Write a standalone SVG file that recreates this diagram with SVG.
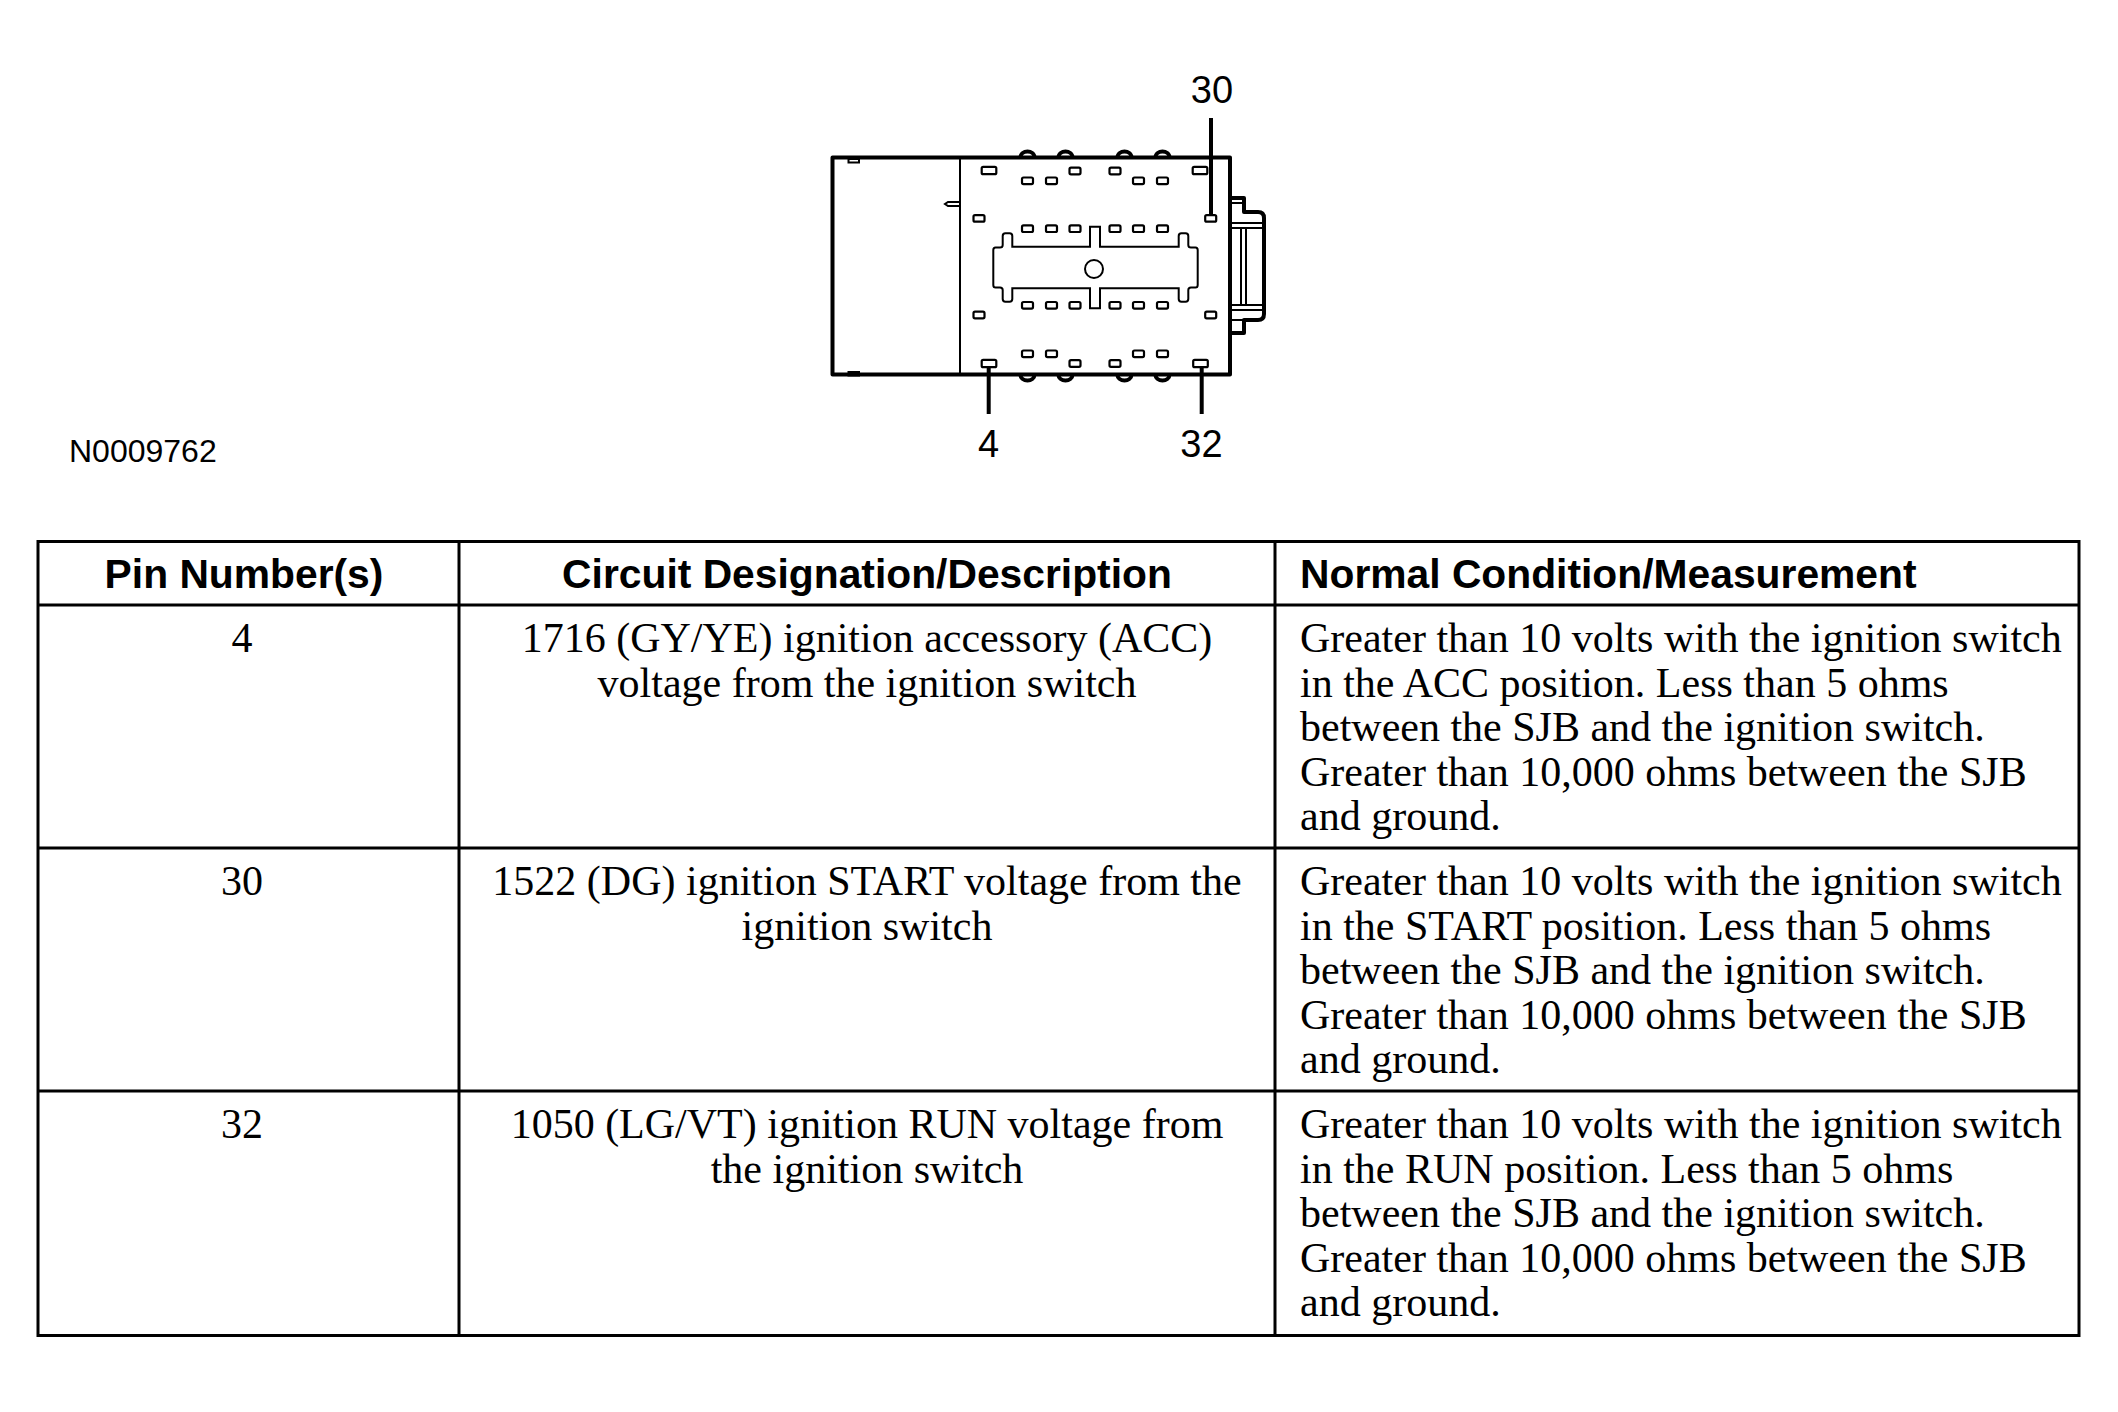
<svg xmlns="http://www.w3.org/2000/svg" width="2118" height="1412" viewBox="0 0 2118 1412">
<style>
  .hdr { font-family: "Liberation Sans", Arial, sans-serif; font-weight: bold; font-size: 40.8px; fill: #000; }
  .cell { font-family: "Liberation Serif", "Times New Roman", serif; font-size: 42px; fill: #000; }
  .lbl { font-family: "Liberation Sans", Arial, sans-serif; font-size: 38px; fill: #000; }
  .code { font-family: "Liberation Sans", Arial, sans-serif; font-size: 32px; fill: #000; }
  .grid { stroke: #000; stroke-width: 3; fill: none; }
  .outl { stroke: #000; stroke-width: 4; fill: #fff; stroke-linejoin: round; }
  .thin { stroke: #000; stroke-width: 2; fill: none; }
  .pin { stroke: #000; stroke-width: 2.2; fill: #fff; }
  .lead { stroke: #000; stroke-width: 4; fill: none; }
  .mid { text-anchor: middle; }
</style>
<defs>
  <rect id="sp" x="-5.5" y="-3.3" width="11" height="6.6" rx="1.5"/>
  <rect id="lp" x="-7.3" y="-3.7" width="14.6" height="7.4" rx="1.5"/>
  <path id="bump" d="M -7 0 C -7 -8 7 -8 7 0"/>
</defs>
<rect width="2118" height="1412" fill="#fff"/>

<g id="connector">
  <g class="outl" stroke-width="3.5">
    <use href="#bump" x="1027.5" y="157.5"/>
    <use href="#bump" x="1065.5" y="157.5"/>
    <use href="#bump" x="1124.5" y="157.5"/>
    <use href="#bump" x="1162.5" y="157.5"/>
    <use href="#bump" transform="translate(1027.5 374.5) scale(1 -1)"/>
    <use href="#bump" transform="translate(1065.5 374.5) scale(1 -1)"/>
    <use href="#bump" transform="translate(1124.5 374.5) scale(1 -1)"/>
    <use href="#bump" transform="translate(1162.5 374.5) scale(1 -1)"/>
  </g>
  <path class="outl" d="M 1230 198 L 1244 198 L 1244 212 L 1258 212 Q 1264 212 1264 218 L 1264 314 Q 1264 320 1258 320 L 1244 320 L 1244 333 L 1230 333 Z"/>
  <g class="thin" stroke-width="1.8">
    <line x1="1232" y1="203" x2="1244" y2="203"/>
    <line x1="1232" y1="223" x2="1262" y2="223"/>
    <line x1="1232" y1="228" x2="1262" y2="228"/>
    <line x1="1232" y1="305" x2="1262" y2="305"/>
    <line x1="1232" y1="310" x2="1262" y2="310"/>
    <line x1="1232" y1="320" x2="1244" y2="320"/>
    <line x1="1241" y1="228" x2="1241" y2="305"/>
    <line x1="1246" y1="228" x2="1246" y2="305"/>
  </g>
  <rect class="outl" x="832.5" y="157.5" width="397.5" height="217"/>
  <line class="thin" x1="960" y1="157.5" x2="960" y2="374.5"/>
  <path class="thin" d="M 960 202 L 948 202 L 945 204 L 948 206 L 960 206"/>
  <rect class="thin" x="848.5" y="159" width="10.5" height="3.5" stroke-width="1.8"/>
  <rect class="thin" x="848.5" y="372" width="10.5" height="3.5" stroke-width="1.8"/>
  <path class="thin" d="M 1002.7 245 L 1002.7 236 Q 1002.7 233.3 1005.4 233.3 L 1009.6 233.3 Q 1012.3 233.3 1012.3 236 L 1012.3 246.7 L 1090 246.7 L 1090 226.7 L 1100 226.7 L 1100 246.7 L 1178.7 246.7 L 1178.7 236 Q 1178.7 233.3 1181.4 233.3 L 1185.6 233.3 Q 1188.3 233.3 1188.3 236 L 1188.3 245 Q 1188.3 247.5 1191 247.5 L 1195.5 247.5 Q 1197.7 247.5 1197.7 250 L 1197.7 285 Q 1197.7 287.5 1195.5 287.5 L 1191 287.5 Q 1188.3 287.5 1188.3 290 L 1188.3 299 Q 1188.3 301.7 1185.6 301.7 L 1181.4 301.7 Q 1178.7 301.7 1178.7 299 L 1178.7 288.3 L 1100 288.3 L 1100 308.3 L 1090 308.3 L 1090 288.3 L 1012.3 288.3 L 1012.3 299 Q 1012.3 301.7 1009.6 301.7 L 1005.4 301.7 Q 1002.7 301.7 1002.7 299 L 1002.7 290 Q 1002.7 287.5 1000 287.5 L 995.5 287.5 Q 993.3 287.5 993.3 285 L 993.3 250 Q 993.3 247.5 995.5 247.5 L 1000 247.5 Q 1002.7 247.5 1002.7 245 Z"/>
  <circle class="thin" cx="1094" cy="269" r="9"/>
  <g class="pin">
    <use href="#lp" x="989" y="170.5"/>
    <use href="#lp" x="1200" y="170.5"/>
    <use href="#sp" x="1075" y="171"/>
    <use href="#sp" x="1115" y="171"/>
    <use href="#sp" x="1027.5" y="180.8"/>
    <use href="#sp" x="1051.5" y="180.8"/>
    <use href="#sp" x="1138.5" y="180.8"/>
    <use href="#sp" x="1162.5" y="180.8"/>
    <use href="#sp" x="979" y="218.4"/>
    <use href="#sp" x="1210.7" y="218.4"/>
    <use href="#sp" x="1027.5" y="228.7"/>
    <use href="#sp" x="1051.5" y="228.7"/>
    <use href="#sp" x="1075" y="228.7"/>
    <use href="#sp" x="1115" y="228.7"/>
    <use href="#sp" x="1138.5" y="228.7"/>
    <use href="#sp" x="1162.5" y="228.7"/>
    <use href="#sp" x="1027.5" y="305.3"/>
    <use href="#sp" x="1051.5" y="305.3"/>
    <use href="#sp" x="1075" y="305.3"/>
    <use href="#sp" x="1115" y="305.3"/>
    <use href="#sp" x="1138.5" y="305.3"/>
    <use href="#sp" x="1162.5" y="305.3"/>
    <use href="#sp" x="979" y="315"/>
    <use href="#sp" x="1210.7" y="315"/>
    <use href="#sp" x="1027.5" y="353.8"/>
    <use href="#sp" x="1051.5" y="353.8"/>
    <use href="#sp" x="1138.5" y="353.8"/>
    <use href="#sp" x="1162.5" y="353.8"/>
    <use href="#lp" x="989" y="363.5"/>
    <use href="#lp" x="1200.5" y="363.5"/>
    <use href="#sp" x="1075" y="363.5"/>
    <use href="#sp" x="1115" y="363.5"/>
  </g>
</g>

<g id="connectors">
  <line class="lead" x1="1211" y1="118" x2="1211" y2="215"/>
  <line class="lead" x1="988.7" y1="367" x2="988.7" y2="414"/>
  <line class="lead" x1="1201.7" y1="367" x2="1201.7" y2="414"/>
</g>

<g id="pin-labels">
  <text class="lbl mid" x="1212" y="103">30</text>
  <text class="lbl mid" x="988.5" y="456.5">4</text>
  <text class="lbl mid" x="1201.5" y="456.5">32</text>
</g>

<g id="figure-code">
  <text class="code" x="69" y="461.5">N0009762</text>
</g>

<g id="table">
  <rect class="grid" x="38" y="541.5" width="2041" height="794"/>
  <line class="grid" x1="38" y1="605" x2="2079" y2="605"/>
  <line class="grid" x1="38" y1="848" x2="2079" y2="848"/>
  <line class="grid" x1="38" y1="1091" x2="2079" y2="1091"/>
  <line class="grid" x1="459" y1="541.5" x2="459" y2="1335.5"/>
  <line class="grid" x1="1275" y1="541.5" x2="1275" y2="1335.5"/>

  <g id="header">
    <text class="hdr mid" x="244" y="587.5">Pin Number(s)</text>
    <text class="hdr mid" x="867" y="587.5">Circuit Designation/Description</text>
    <text class="hdr" x="1300" y="587.5">Normal Condition/Measurement</text>
  </g>

  <g id="row-4">
    <text class="cell mid" x="242" y="652">4</text>
    <text class="cell mid" x="867" y="652">1716 (GY/YE) ignition accessory (ACC)</text>
    <text class="cell mid" x="867" y="696.5">voltage from the ignition switch</text>
    <text class="cell" x="1300" y="652">Greater than 10 volts with the ignition switch</text>
    <text class="cell" x="1300" y="696.5">in the ACC position. Less than 5 ohms</text>
    <text class="cell" x="1300" y="741">between the SJB and the ignition switch.</text>
    <text class="cell" x="1300" y="785.5">Greater than 10,000 ohms between the SJB</text>
    <text class="cell" x="1300" y="830">and ground.</text>
  </g>

  <g id="row-30">
    <text class="cell mid" x="242" y="895">30</text>
    <text class="cell mid" x="867" y="895">1522 (DG) ignition START voltage from the</text>
    <text class="cell mid" x="867" y="939.5">ignition switch</text>
    <text class="cell" x="1300" y="895">Greater than 10 volts with the ignition switch</text>
    <text class="cell" x="1300" y="939.5">in the START position. Less than 5 ohms</text>
    <text class="cell" x="1300" y="984">between the SJB and the ignition switch.</text>
    <text class="cell" x="1300" y="1028.5">Greater than 10,000 ohms between the SJB</text>
    <text class="cell" x="1300" y="1073">and ground.</text>
  </g>

  <g id="row-32">
    <text class="cell mid" x="242" y="1138">32</text>
    <text class="cell mid" x="867" y="1138">1050 (LG/VT) ignition RUN voltage from</text>
    <text class="cell mid" x="867" y="1182.5">the ignition switch</text>
    <text class="cell" x="1300" y="1138">Greater than 10 volts with the ignition switch</text>
    <text class="cell" x="1300" y="1182.5">in the RUN position. Less than 5 ohms</text>
    <text class="cell" x="1300" y="1227">between the SJB and the ignition switch.</text>
    <text class="cell" x="1300" y="1271.5">Greater than 10,000 ohms between the SJB</text>
    <text class="cell" x="1300" y="1316">and ground.</text>
  </g>
</g>
</svg>
